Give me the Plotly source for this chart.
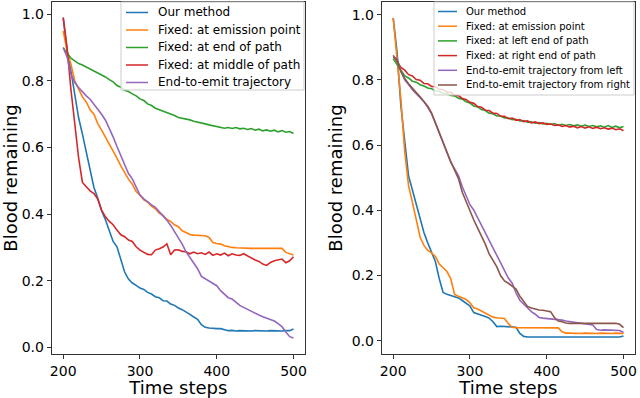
import plotly.graph_objects as go
from plotly.subplots import make_subplots

# time steps, one reading every 5 steps
steps = list(range(200, 505, 5))

# left panel
left_ours = [0.99, 0.89, 0.83, 0.755, 0.69, 0.64, 0.585, 0.53, 0.48, 0.448,
             0.41, 0.383, 0.348, 0.318, 0.302, 0.262, 0.226, 0.205, 0.193, 0.186,
             0.178, 0.174, 0.165, 0.16, 0.152, 0.149, 0.14, 0.139, 0.13, 0.126,
             0.118, 0.113, 0.107, 0.099, 0.091, 0.084, 0.068, 0.06, 0.058, 0.056,
             0.056, 0.056, 0.052, 0.05, 0.051, 0.049, 0.05, 0.049, 0.05, 0.049,
             0.05, 0.049, 0.05, 0.049, 0.05, 0.049, 0.05, 0.049, 0.05, 0.05,
             0.055]
left_emission = [0.95, 0.89, 0.85, 0.80, 0.776, 0.752, 0.737, 0.713, 0.70, 0.672,
                 0.652, 0.632, 0.612, 0.592, 0.568, 0.545, 0.523, 0.505, 0.49, 0.468,
                 0.457, 0.443, 0.436, 0.424, 0.416, 0.403, 0.396, 0.384, 0.378, 0.368,
                 0.362, 0.35, 0.345, 0.339, 0.337, 0.337, 0.335, 0.335, 0.33, 0.315,
                 0.312, 0.31, 0.305, 0.302, 0.30, 0.299, 0.298, 0.298, 0.297, 0.297,
                 0.297, 0.297, 0.298, 0.297, 0.297, 0.297, 0.297, 0.297, 0.285, 0.28,
                 0.277]
left_end = [0.90, 0.885, 0.868, 0.86, 0.852, 0.848, 0.842, 0.838, 0.83, 0.826,
            0.818, 0.812, 0.804, 0.797, 0.786, 0.781, 0.772, 0.768, 0.761, 0.755,
            0.746, 0.741, 0.731, 0.726, 0.718, 0.714, 0.71, 0.705, 0.701, 0.696,
            0.69, 0.688, 0.684, 0.683, 0.679, 0.677, 0.673, 0.671, 0.668, 0.665,
            0.662, 0.661, 0.658, 0.66, 0.657, 0.66, 0.656, 0.658, 0.654, 0.657,
            0.652, 0.655, 0.65, 0.653, 0.649, 0.652, 0.647, 0.651, 0.646, 0.648,
            0.642]
left_middle = [0.99, 0.90, 0.775, 0.68, 0.57, 0.495, 0.482, 0.47, 0.462, 0.445,
               0.412, 0.392, 0.378, 0.368, 0.352, 0.338, 0.332, 0.322, 0.318, 0.302,
               0.292, 0.285, 0.279, 0.278, 0.292, 0.296, 0.301, 0.311, 0.278, 0.292,
               0.293, 0.288, 0.287, 0.281, 0.286, 0.281, 0.284, 0.279, 0.286, 0.276,
               0.281, 0.277, 0.283, 0.275, 0.281, 0.277, 0.276, 0.281, 0.274, 0.268,
               0.262, 0.258, 0.25, 0.246, 0.255, 0.26, 0.263, 0.265, 0.254, 0.26,
               0.272]
left_traj = [0.90, 0.872, 0.82, 0.795, 0.78, 0.767, 0.755, 0.745, 0.73, 0.717,
             0.70, 0.682, 0.658, 0.632, 0.603, 0.576, 0.548, 0.522, 0.506, 0.483,
             0.457, 0.446, 0.436, 0.428, 0.42, 0.407, 0.397, 0.382, 0.366, 0.347,
             0.33, 0.31, 0.287, 0.27, 0.252, 0.236, 0.213, 0.206, 0.2, 0.193,
             0.185, 0.17, 0.16, 0.149, 0.145, 0.135, 0.126, 0.12, 0.114, 0.108,
             0.101, 0.097, 0.092, 0.088, 0.083, 0.079, 0.071, 0.062, 0.046, 0.032,
             0.028]

# right panel
right_ours = [0.99, 0.885, 0.72, 0.61, 0.505, 0.462, 0.42, 0.372, 0.332, 0.30,
              0.272, 0.242, 0.19, 0.148, 0.142, 0.138, 0.136, 0.131, 0.123, 0.114,
              0.106, 0.086, 0.081, 0.078, 0.074, 0.069, 0.058, 0.043, 0.044, 0.043,
              0.043, 0.042, 0.041, 0.022, 0.013, 0.011, 0.011, 0.01, 0.012, 0.01,
              0.011, 0.01, 0.012, 0.01, 0.011, 0.01, 0.012, 0.01, 0.011, 0.01,
              0.012, 0.01, 0.011, 0.01, 0.012, 0.01, 0.011, 0.01, 0.012, 0.011,
              0.014]
right_emission = [0.99, 0.87, 0.74, 0.58, 0.475, 0.425, 0.372, 0.318, 0.292, 0.277,
                  0.269, 0.258, 0.235, 0.222, 0.212, 0.19, 0.142, 0.136, 0.13, 0.126,
                  0.116, 0.101, 0.097, 0.091, 0.086, 0.079, 0.072, 0.07, 0.069, 0.068,
                  0.052, 0.041, 0.04, 0.04, 0.041, 0.04, 0.04, 0.041, 0.04, 0.04,
                  0.041, 0.04, 0.04, 0.039, 0.027, 0.023, 0.023, 0.022, 0.023, 0.022,
                  0.023, 0.022, 0.023, 0.022, 0.023, 0.022, 0.023, 0.022, 0.023, 0.022,
                  0.022]
right_left_end = [0.865, 0.846, 0.829, 0.812, 0.806, 0.796, 0.793, 0.785, 0.781, 0.775,
                  0.773, 0.766, 0.765, 0.758, 0.758, 0.752, 0.751, 0.744, 0.741, 0.733,
                  0.729, 0.72, 0.717, 0.709, 0.706, 0.698, 0.696, 0.689, 0.689, 0.683,
                  0.683, 0.678, 0.679, 0.674, 0.675, 0.67, 0.671, 0.667, 0.669, 0.665,
                  0.667, 0.663, 0.666, 0.661, 0.664, 0.66, 0.663, 0.659, 0.662, 0.658,
                  0.661, 0.657, 0.66, 0.656, 0.659, 0.655, 0.66, 0.654, 0.658, 0.653,
                  0.657]
right_right_end = [0.875, 0.858, 0.838, 0.83, 0.816, 0.812, 0.801, 0.799, 0.789, 0.788,
                   0.78, 0.779, 0.771, 0.77, 0.763, 0.762, 0.753, 0.752, 0.743, 0.74,
                   0.731, 0.728, 0.718, 0.716, 0.707, 0.706, 0.698, 0.697, 0.689, 0.688,
                   0.681, 0.683, 0.676, 0.678, 0.672, 0.674, 0.668, 0.671, 0.666, 0.668,
                   0.663, 0.665, 0.66, 0.662, 0.657, 0.66, 0.655, 0.658, 0.653, 0.657,
                   0.652, 0.656, 0.651, 0.655, 0.65, 0.653, 0.649, 0.652, 0.647, 0.65,
                   0.644]
right_traj_left = [0.87, 0.865, 0.826, 0.80, 0.786, 0.77, 0.758, 0.746, 0.733, 0.716,
                   0.696, 0.667, 0.637, 0.607, 0.577, 0.547, 0.527, 0.506, 0.472, 0.442,
                   0.417, 0.40, 0.377, 0.356, 0.332, 0.307, 0.286, 0.262, 0.238, 0.216,
                   0.192, 0.176, 0.146, 0.124, 0.113, 0.099, 0.089, 0.081, 0.071, 0.069,
                   0.068, 0.067, 0.066, 0.065, 0.063, 0.06, 0.058, 0.056, 0.054, 0.052,
                   0.05, 0.049, 0.048, 0.034, 0.032, 0.033, 0.032, 0.033, 0.032, 0.031,
                   0.025]
right_traj_right = [0.87, 0.862, 0.826, 0.804, 0.788, 0.773, 0.761, 0.748, 0.735, 0.719,
                    0.698, 0.668, 0.638, 0.606, 0.578, 0.549, 0.523, 0.497, 0.455, 0.425,
                    0.396, 0.37, 0.345, 0.322, 0.296, 0.266, 0.248, 0.226, 0.199, 0.183,
                    0.176, 0.166, 0.158, 0.136, 0.121, 0.105, 0.10, 0.096, 0.094, 0.093,
                    0.091, 0.089, 0.071, 0.06, 0.058, 0.054, 0.053, 0.054, 0.053, 0.053,
                    0.054, 0.053, 0.053, 0.054, 0.053, 0.053, 0.054, 0.053, 0.053, 0.05,
                    0.04]

BLUE, ORANGE, GREEN, RED, PURPLE, BROWN = (
    '#1f77b4', '#ff7f0e', '#2ca02c', '#d62728', '#9467bd', '#8c564b')

left_series = [
    ('Our method', left_ours, BLUE),
    ('Fixed: at emission point', left_emission, ORANGE),
    ('Fixed: at end of path', left_end, GREEN),
    ('Fixed: at middle of path', left_middle, RED),
    ('End-to-emit trajectory', left_traj, PURPLE),
]
right_series = [
    ('Our method', right_ours, BLUE),
    ('Fixed: at emission point', right_emission, ORANGE),
    ('Fixed: at left end of path', right_left_end, GREEN),
    ('Fixed: at right end of path', right_right_end, RED),
    ('End-to-emit trajectory from left', right_traj_left, PURPLE),
    ('End-to-emit trajectory from right', right_traj_right, BROWN),
]

W, H = 640, 398

fig = make_subplots(rows=1, cols=2)

for name, vals, color in left_series:
    fig.add_trace(go.Scatter(x=steps, y=vals, mode='lines', name=name,
                             line=dict(color=color, width=1.6), showlegend=False),
                  row=1, col=1)
for name, vals, color in right_series:
    fig.add_trace(go.Scatter(x=steps, y=vals, mode='lines', name=name,
                             line=dict(color=color, width=1.6), showlegend=False),
                  row=1, col=2)

axis_style = dict(showline=True, linecolor='#333333', linewidth=1, mirror=True,
                  ticks='outside', ticklen=4, tickcolor='#333333', tickwidth=1,
                  showgrid=False, zeroline=False, automargin=False,
                  tickfont=dict(size=14, color='black'))

fig.update_xaxes(**axis_style, range=[185, 515], tickvals=[200, 300, 400, 500],
                 title=dict(text='Time steps', font=dict(size=18, color='black'),
                            standoff=2))
fig.update_yaxes(**axis_style, tickvals=[0, 0.2, 0.4, 0.6, 0.8, 1.0],
                 tickformat='.1f',
                 title=dict(text='Blood remaining', font=dict(size=18, color='black'),
                            standoff=4))
fig.update_xaxes(domain=[0.0808, 0.4766], row=1, col=1)
fig.update_xaxes(domain=[0.5964, 0.9922], row=1, col=2)
fig.update_yaxes(domain=[0.1106, 0.995], range=[-0.020, 1.037], row=1, col=1)
fig.update_yaxes(domain=[0.1106, 0.995], range=[-0.041, 1.039], row=1, col=2)


# matplotlib-style legend boxes, drawn by hand (pixel positions -> paper)
def add_legend(series, box, first_row, row_gap, line_x, text_x, size):
    x0, y0, x1, y1 = box
    fig.add_shape(type='rect', xref='paper', yref='paper', layer='above',
                  x0=x0 / W, x1=x1 / W, y0=1 - y0 / H, y1=1 - y1 / H,
                  fillcolor='rgba(255,255,255,0.8)',
                  line=dict(color='#cccccc', width=1))
    for i, (name, _, color) in enumerate(series):
        yy = 1 - (first_row + i * row_gap) / H
        fig.add_shape(type='line', xref='paper', yref='paper', layer='above',
                      x0=line_x[0] / W, x1=line_x[1] / W, y0=yy, y1=yy,
                      line=dict(color=color, width=1.5))
        fig.add_annotation(text=name, xref='paper', yref='paper',
                           x=text_x / W, y=yy, xanchor='left', yanchor='middle',
                           showarrow=False, font=dict(size=size, color='black'))


add_legend(left_series, (121, 2, 304, 90), 12.5, 17.5, (126, 148), 156, 12)
add_legend(right_series, (434, 2, 634, 95), 11.5, 14.7, (438, 457), 464, 10)

fig.update_layout(
    width=W, height=H,
    margin=dict(l=0, r=0, t=0, b=0),
    paper_bgcolor='white', plot_bgcolor='white',
    font=dict(family='DejaVu Sans', color='black'),
)

fig.write_html("out.html", config={'displayModeBar': False},
               post_script="document.body.style.margin='0px';")
